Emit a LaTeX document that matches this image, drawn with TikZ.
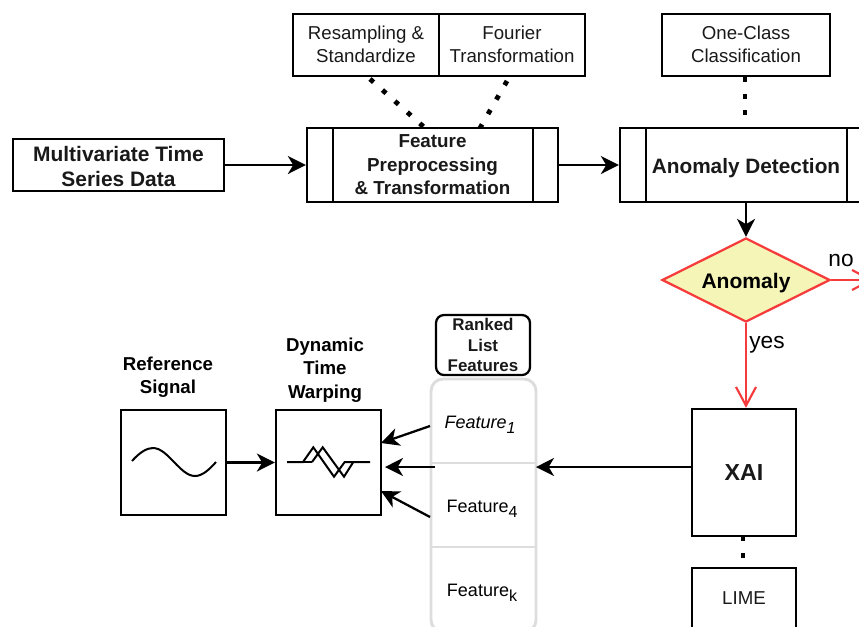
\documentclass[tikz,border=0pt]{standalone}
\usepackage{fontspec}
\setmainfont{Liberation Sans}
\usetikzlibrary{arrows.meta,shapes.geometric,calc}
\definecolor{redline}{HTML}{F53B3B}
\definecolor{yellowfill}{HTML}{F5F5B8}
\definecolor{listgray}{HTML}{DDDDDD}
\newcommand\lowered[2]{\raisebox{-#1}[0pt][0pt]{\begin{tabular}[c]{@{}c@{}}#2\end{tabular}}}
\newcommand\subtxt[1]{\raisebox{-3.8pt}{\fontsize{12}{14}\selectfont #1}}
\tikzset{
  x=0.75pt,y=-0.75pt,
  boxnode/.style={draw=black,line width=1.7pt,inner sep=0pt,align=center,font=\fontsize{14}{17.2}\selectfont,text=black!90},
  smalltitle/.style={align=center,inner sep=0pt,font=\fontsize{14}{17.6}\selectfont\bfseries},
  flow/.style={draw=black,line width=1.7pt,-{Stealth[length=13.5pt,width=13.5pt,inset=4pt]}},
  redflow/.style={draw=redline,line width=1.7pt,-{Straight Barb[length=14pt,width=15pt,line width=1.6pt]}},
  dots/.style={draw=black,line width=3.6pt,dash pattern=on 3.6pt off 8.9pt},
  glyph/.style={draw=black,line width=1.5pt,line join=miter},
  rowtext/.style={inner sep=0pt,font=\fontsize{13.5}{17}\selectfont},
}
\begin{document}
\begin{tikzpicture}
\useasboundingbox (0,0) rectangle (859,626);
\clip (0,0) rectangle (859,626);
% top boxes
\node[boxnode,minimum width=158.25pt,minimum height=39pt,font=\fontsize{15.7}{18.75}\selectfont\bfseries] (mts) at (118.5,165) {\lowered{6.6pt}{Multivariate Time\\Series Data}};
\node[boxnode,minimum width=188.25pt,minimum height=55.5pt,font=\fontsize{14.1}{17.6}\selectfont\bfseries] (feat) at (432.5,165) {Feature\\Preprocessing\\\& Transformation};
\draw[line width=1.7pt] (333,128) -- (333,202) (533,128) -- (533,202);
\node[boxnode,minimum width=109.5pt,minimum height=46.5pt] (res) at (366,45) {\lowered{4.7pt}{Resampling \&\\Standardize}};
\node[boxnode,minimum width=109.5pt,minimum height=46.5pt] (fou) at (512,45) {\lowered{4.7pt}{Fourier\\Transformation}};
\node[boxnode,minimum width=126pt,minimum height=46.5pt] (occ) at (746,45) {\lowered{4.7pt}{One-Class\\Classification}};
\node[boxnode,minimum width=189pt,minimum height=55.5pt,font=\fontsize{15.6}{17}\selectfont\bfseries] (ad) at (746,165) {\lowered{6.25pt}{Anomaly Detection}};
\draw[line width=1.7pt] (646,128) -- (646,202) (847,128) -- (847,202);
% diamond
\node[diamond,draw=redline,line width=1.7pt,fill=yellowfill,minimum width=126pt,minimum height=63pt,inner sep=0pt,aspect=2,font=\fontsize{15.8}{17}\selectfont\bfseries] (dec) at (746,280) {\lowered{6.25pt}{Anomaly}};
\coordinate (noend) at (873,280);
\node[inner sep=0pt,font=\fontsize{17}{19}\selectfont] (nolab) at (841,261) {no};
\node[inner sep=0pt,font=\fontsize{17}{19}\selectfont] (yeslab) at (767,344.5) {yes};
% XAI and LIME
\node[boxnode,minimum width=78pt,minimum height=95.25pt,font=\fontsize{17.4}{19}\selectfont\bfseries] (xai) at (744,472.5) {XAI};
\node[boxnode,minimum width=78pt,minimum height=54pt] (lime) at (744,604) {\lowered{0.25pt}{LIME}};
% list
\node[draw=listgray,line width=2.2pt,rounded corners=9pt,minimum width=78.75pt,minimum height=189.75pt,inner sep=0pt] (list) at (483.5,505.5) {};
\draw[draw=listgray,line width=1.5pt] (431,463) -- (536,463) (431,547) -- (536,547);
\node[rowtext] (f1) at (480,425) {\textit{Feature\subtxt{1}}};
\node[rowtext] (f4) at (482,509) {Feature\subtxt{4}};
\node[rowtext] (fk) at (482,593) {Feature\subtxt{k}};
\node[boxnode,rounded corners=6pt,minimum width=70.5pt,minimum height=45pt,font=\fontsize{12.7}{15.2}\selectfont\bfseries] (rank) at (483,345) {Ranked\\List\\Features};
% signal boxes
\node[boxnode,minimum width=78.75pt,minimum height=78.75pt] (refb) at (173.5,462.5) {};
\node[boxnode,minimum width=78.75pt,minimum height=78.75pt] (dtw) at (328.5,462.5) {};
\node[smalltitle] (reflab) at (168,377) {Reference\\Signal};
\node[smalltitle] (dtwlab) at (325,370) {Dynamic\\Time\\Warping};
% glyphs
\draw[glyph] (132,461) .. controls (140,452) and (147,448) .. (153,448) .. controls (168,448) and (180,476) .. (195,476) .. controls (202,476) and (209,470) .. (216,462);
\draw[glyph] (287,462) -- (303,462) -- (313.3,447.3) -- (334,476.7) -- (344.7,462) -- (370,462);
\draw[glyph] (303,462) -- (312,462);
\draw[glyph] (312,462) -- (322.7,447.3) -- (344,476.7) -- (353.3,462);
% coordinates of free ends
\coordinate (d1) at (370,79);
\coordinate (d2) at (425,128);
\coordinate (d3) at (507,81);
\coordinate (d4) at (480,128);
\coordinate (a1s) at (430,426);
\coordinate (a1e) at (381,443);
\coordinate (a2s) at (435,467);
\coordinate (a2e) at (385,467);
\coordinate (a3s) at (430,517);
\coordinate (a3e) at (381,491);
\coordinate (xaiw) at (692,467);
\coordinate (liste) at (536,467);
% connectors
\draw[flow] (mts.east) -- (feat.west);
\draw[flow] (feat.east) -- (ad.west);
\draw[flow] (ad.south) -- (dec.north);
\draw[redflow] (dec.east) -- (noend);
\draw[redflow] (dec.south) -- (dec.south |- xai.north);
\draw[flow] (refb.east) -- (dtw.west);
\draw[flow] (xaiw) -- (liste);
\draw[flow] (a1s) -- (a1e);
\draw[flow] (a2s) -- (a2e);
\draw[flow] (a3s) -- (a3e);
\draw[dots] (d1) -- (d2);
\draw[dots] (d3) -- (d4);
\draw[dots] ([xshift=-0.75pt,yshift=0pt]occ.south) -- ([xshift=-0.75pt]occ.south |- ad.north);
\draw[dots] ([xshift=-0.75pt,yshift=0.75pt]xai.south) -- ([xshift=-0.75pt]xai.south |- lime.north);
\end{tikzpicture}
\end{document}
